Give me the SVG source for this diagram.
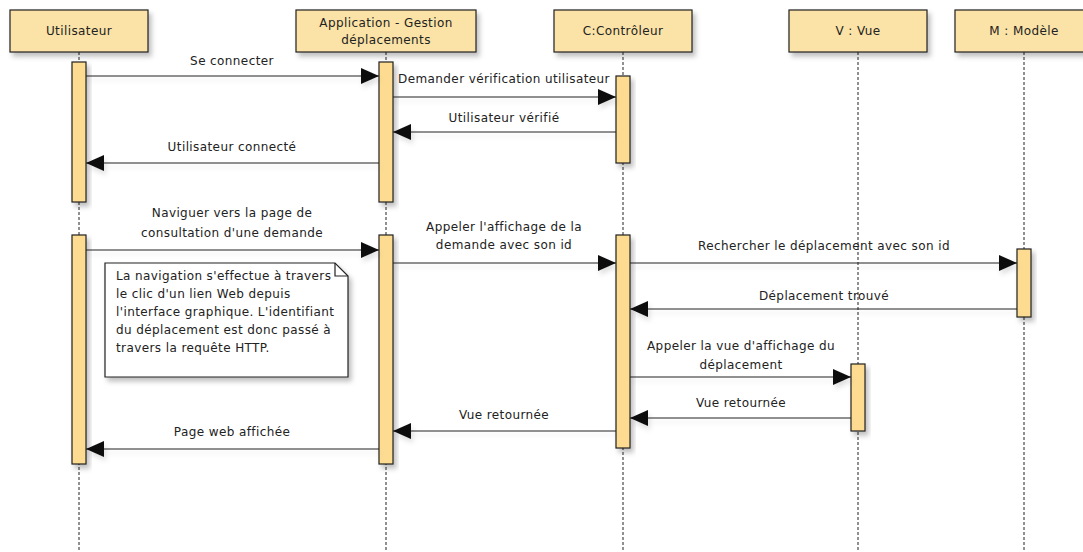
<svg xmlns="http://www.w3.org/2000/svg" width="1083" height="552" viewBox="0 0 1083 552">
<style>
  text { font-family: "DejaVu Sans", Tahoma, sans-serif; font-size: 12px; letter-spacing: 0.4px; fill: #222; }
  .c { text-anchor: middle; }
  .hdr { fill: #FBE2A6; stroke: #222; stroke-width: 1.2; filter: url(#sh); }
  .act { fill: #FDDC92; stroke: #222; stroke-width: 1.2; filter: url(#sh); }
  .life { stroke: #222; stroke-width: 1; stroke-dasharray: 3 2; fill: none; }
  .msg { stroke: #222; stroke-width: 1.2; fill: none; marker-end: url(#arr); }
  .note { fill: #fff; stroke: #222; stroke-width: 1.2; filter: url(#sh); }
</style>
<defs>
  <filter id="sh" x="-30%" y="-30%" width="170%" height="170%">
    <feDropShadow dx="3" dy="4" stdDeviation="2.5" flood-color="#000" flood-opacity="0.25"/>
  </filter>
  <filter id="lsh" filterUnits="userSpaceOnUse" x="0" y="0" width="1083" height="552">
    <feDropShadow dx="2" dy="4" stdDeviation="2.5" flood-color="#000" flood-opacity="0.12"/>
  </filter>
  <marker id="arr" markerUnits="userSpaceOnUse" markerWidth="18" markerHeight="16" refX="18" refY="8" orient="auto">
    <path d="M0,0 L18,8 L0,16 z" fill="#111"/>
  </marker>
</defs>
<rect width="1083" height="552" fill="#fff"/>

<g id="lifelines">
  <line class="life" x1="79" y1="52" x2="79" y2="552"/>
  <line class="life" x1="386" y1="52" x2="386" y2="552"/>
  <line class="life" x1="623" y1="52" x2="623" y2="552"/>
  <line class="life" x1="858" y1="52" x2="858" y2="552"/>
  <line class="life" x1="1024" y1="52" x2="1024" y2="552"/>
</g>

<g id="utilisateur">
  <rect class="hdr" x="10" y="10" width="138" height="42"/>
  <text class="c" x="79" y="35">Utilisateur</text>
  <rect class="act" x="72" y="62" width="14" height="140"/>
  <rect class="act" x="72" y="235" width="14" height="229"/>
</g>

<g id="application">
  <rect class="hdr" x="296" y="10" width="180" height="42"/>
  <text class="c" x="386" y="27">Application - Gestion</text>
  <text class="c" x="386" y="44">déplacements</text>
  <rect class="act" x="379" y="62" width="14" height="140"/>
  <rect class="act" x="379" y="235" width="14" height="229"/>
</g>

<g id="controleur">
  <rect class="hdr" x="554" y="10" width="138" height="42"/>
  <text class="c" x="623" y="35">C:Contrôleur</text>
  <rect class="act" x="616" y="76" width="14" height="87"/>
  <rect class="act" x="616" y="235" width="14" height="213"/>
</g>

<g id="vue">
  <rect class="hdr" x="789" y="10" width="138" height="42"/>
  <text class="c" x="858" y="35">V : Vue</text>
  <rect class="act" x="851" y="364" width="14" height="67"/>
</g>

<g id="modele">
  <rect class="hdr" x="955" y="10" width="138" height="42"/>
  <text class="c" x="1024" y="35">M : Modèle</text>
  <rect class="act" x="1017" y="249" width="14" height="68"/>
</g>

<g id="connectors" filter="url(#lsh)">
  <line class="msg" x1="86" y1="76" x2="379" y2="76"/>
  <line class="msg" x1="393" y1="97" x2="616" y2="97"/>
  <line class="msg" x1="616" y1="132" x2="393" y2="132"/>
  <line class="msg" x1="379" y1="163" x2="86" y2="163"/>
  <line class="msg" x1="86" y1="250" x2="379" y2="250"/>
  <line class="msg" x1="393" y1="263" x2="616" y2="263"/>
  <line class="msg" x1="630" y1="263" x2="1017" y2="263"/>
  <line class="msg" x1="1017" y1="309" x2="630" y2="309"/>
  <line class="msg" x1="630" y1="377" x2="851" y2="377"/>
  <line class="msg" x1="851" y1="418" x2="630" y2="418"/>
  <line class="msg" x1="616" y1="431" x2="393" y2="431"/>
  <line class="msg" x1="379" y1="449" x2="86" y2="449"/>
</g>

<g id="labels">
  <text class="c" x="232" y="65">Se connecter</text>
  <text class="c" x="504" y="83">Demander vérification utilisateur</text>
  <text class="c" x="504" y="122">Utilisateur vérifié</text>
  <text class="c" x="232" y="151">Utilisateur connecté</text>
  <text class="c" x="232" y="217">Naviguer vers la page de</text>
  <text class="c" x="232" y="237">consultation d'une demande</text>
  <text class="c" x="504" y="231">Appeler l'affichage de la</text>
  <text class="c" x="504" y="249">demande avec son id</text>
  <text class="c" x="824" y="250">Rechercher le déplacement avec son id</text>
  <text class="c" x="824" y="300">Déplacement trouvé</text>
  <text class="c" x="741" y="350">Appeler la vue d'affichage du</text>
  <text class="c" x="741" y="369">déplacement</text>
  <text class="c" x="741" y="407">Vue retournée</text>
  <text class="c" x="504" y="419">Vue retournée</text>
  <text class="c" x="232" y="436">Page web affichée</text>
</g>

<g id="note">
  <path class="note" d="M105,263 L335,263 L348,276 L348,377 L105,377 Z"/>
  <path d="M335,263 L335,276 L348,276" fill="none" stroke="#222" stroke-width="1.2"/>
  <text x="116" y="280">La navigation s'effectue à travers</text>
  <text x="116" y="298">le clic d'un lien Web depuis</text>
  <text x="116" y="316">l'interface graphique. L'identifiant</text>
  <text x="116" y="334">du déplacement est donc passé à</text>
  <text x="116" y="352">travers la requête HTTP.</text>
</g>
</svg>
